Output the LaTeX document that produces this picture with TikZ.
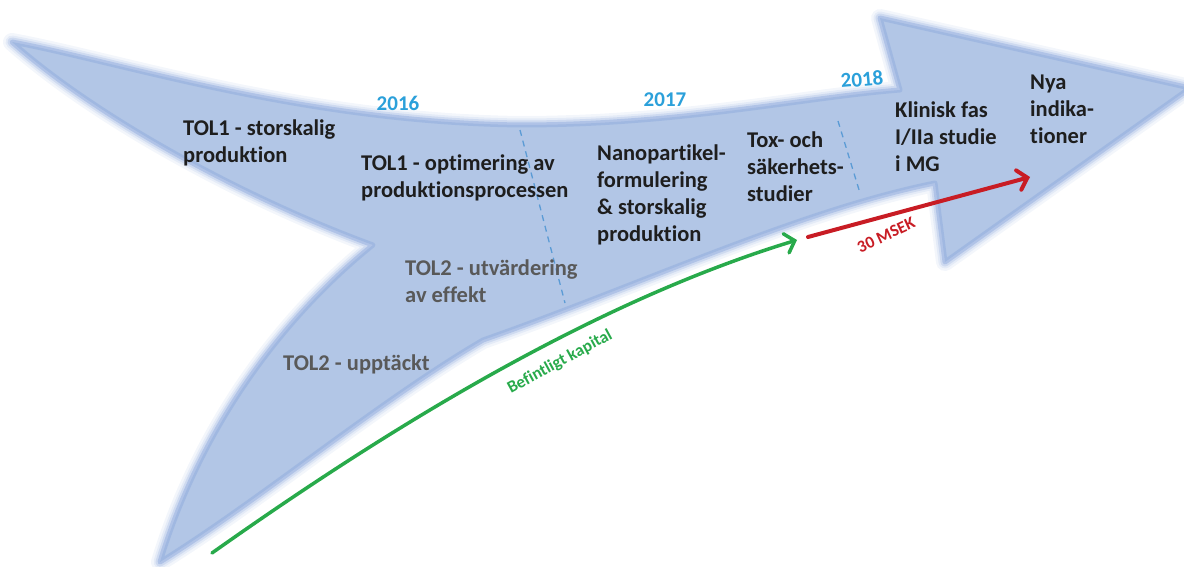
\documentclass[tikz,border=0pt]{standalone}
\usepackage{fontspec}
\setmainfont{Carlito}[Ligatures=NoCommon]
\usetikzlibrary{arrows.meta}
\definecolor{fillc}{RGB}{178,198,230}
\definecolor{edgec}{RGB}{140,168,220}
\definecolor{yearc}{RGB}{43,160,218}
\definecolor{dashc}{RGB}{91,155,213}
\definecolor{darkt}{RGB}{30,30,30}
\definecolor{grayt}{RGB}{89,89,89}
\definecolor{greenc}{RGB}{40,170,75}
\definecolor{redc}{RGB}{200,28,36}
\newcommand\bigarrowpath{(12,42) .. controls (120,62) and (300,122) .. (520,125)
  .. controls (680,125) and (800,98) .. (900,90) -- (880,18) -- (1190,88)
  -- (945,262) -- (935,183)
  .. controls (800,210) and (640,285) .. (483,340)
  .. controls (380,400) and (260,500) .. (160,562)
  .. controls (200,430) and (280,320) .. (373,245)
  .. controls (250,200) and (100,120) .. (12,42) -- cycle}
\begin{document}
\begin{tikzpicture}[x=1pt,y=-1pt,
  body/.style={anchor=north west,inner sep=0pt,align=left,font=\fontsize{22.5}{27}\selectfont\bfseries},
  blk/.style={body,text=darkt},
  gry/.style={body,text=grayt},
  year/.style={font=\fontsize{21}{25}\selectfont\bfseries,text=yearc,inner sep=0pt},
  divider/.style={draw=dashc,line width=1.3pt,dash pattern=on 6pt off 5pt},
  glow/.style={draw=edgec,line join=round},
  flow/.style={line width=3.5pt,line cap=round}]
\useasboundingbox (0,0) rectangle (1184,567);
% arrow body with soft edge
\path[glow,draw opacity=0.10,line width=18pt] \bigarrowpath;
\path[glow,draw opacity=0.15,line width=13pt] \bigarrowpath;
\path[glow,draw opacity=0.25,line width=9pt] \bigarrowpath;
\path[fill=fillc] \bigarrowpath;
\path[glow,draw opacity=0.45,line width=5pt] \bigarrowpath;
% dividers
\coordinate (d1a) at (520,130); \coordinate (d1b) at (565,303);
\coordinate (d2a) at (838,121); \coordinate (d2b) at (860,193);
\draw[divider] (d1a) -- (d1b);
\draw[divider] (d2a) -- (d2b);
% years
\node[year] (y2016) at (398,103) {2016};
\node[year] (y2017) at (665,100) {2017};
\node[year,rotate=5] (y2018) at (862,79) {2018};
% stage texts
\node[blk] (t1) at (183,120) {TOL1 - storskalig\\produktion};
\node[blk] (t2) at (361,155) {TOL1 - optimering av\\produktionsprocessen};
\node[gry] (t3) at (405,260) {TOL2 - utvärdering\\av effekt};
\node[gry] (t4) at (283,355) {TOL2 - upptäckt};
\node[blk] (t5) at (597,145) {Nanopartikel-\\formulering\\\& storskalig\\produktion};
\node[blk] (t6) at (747,132) {Tox- och\\säkerhets-\\studier};
\node[blk] (t7) at (895,102) {Klinisk fas\\I/IIa studie\\i MG};
\node[blk] (t8) at (1030,75) {Nya\\indika-\\tioner};
% funding arrows
\coordinate (g0) at (212,553); \coordinate (g1) at (797,240);
\coordinate (r0) at (808,237); \coordinate (r1) at (1030,177);
\draw[flow,draw=greenc,-{Straight Barb[length=9pt,width=20pt,line cap=round]}]
  (g0) .. controls (400,420) and (600,300) .. (g1);
\draw[flow,draw=redc,line width=4pt,-{Straight Barb[length=9pt,width=20pt,line cap=round]}] (r0) -- (r1);
\node[text=greenc,font=\fontsize{17}{20}\selectfont\bfseries,rotate=28.6,inner sep=0pt] (lg) at (560,362) {Befintligt kapital};
\node[text=redc,font=\fontsize{17}{20}\selectfont\bfseries,rotate=25,inner sep=0pt] (lr) at (886,235) {30 MSEK};
\end{tikzpicture}
\end{document}
